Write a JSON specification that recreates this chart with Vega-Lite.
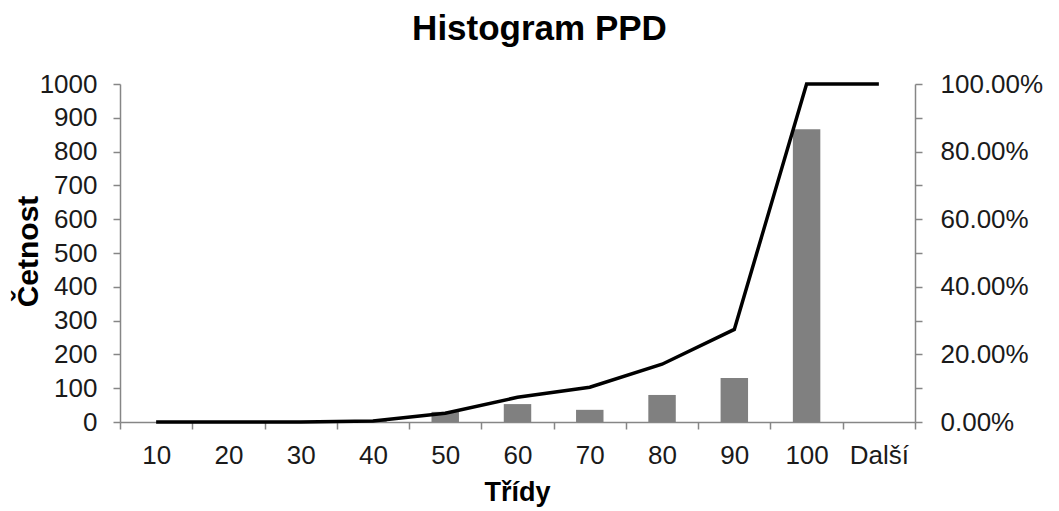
{
  "$schema": "https://vega.github.io/schema/vega-lite/v6.json",
  "autosize": {"type": "none"},
  "width": 795,
  "height": 338,
  "padding": {"left": 120, "top": 84, "right": 144, "bottom": 89},
  "background": "white",
  "config": {
    "view": {"stroke": null},
    "font": "Liberation Sans",
    "axis": {"grid": false, "domainColor": "#868686", "tickColor": "#868686", "labelColor": "#1a1a1a", "labelFont": "Liberation Sans", "labelFontSize": 26, "titleFont": "Liberation Sans", "titleFontSize": 27, "titleFontWeight": "bold", "titleColor": "#000000", "tickSize": 7, "domainWidth": 1.5, "tickWidth": 1.5}
  },
  "title": {"text": "Histogram PPD", "fontSize": 35, "fontWeight": "bold", "font": "Liberation Sans", "color": "#000000", "anchor": "middle", "dx": 22, "offset": 24},
  "data": {"values": [
    {"trida": "10", "cetnost": 0, "kumulativni": 0},
    {"trida": "20", "cetnost": 0, "kumulativni": 0},
    {"trida": "30", "cetnost": 0, "kumulativni": 0},
    {"trida": "40", "cetnost": 3, "kumulativni": 0.003},
    {"trida": "50", "cetnost": 30, "kumulativni": 0.026},
    {"trida": "60", "cetnost": 53, "kumulativni": 0.073},
    {"trida": "70", "cetnost": 36, "kumulativni": 0.103},
    {"trida": "80", "cetnost": 80, "kumulativni": 0.171},
    {"trida": "90", "cetnost": 130, "kumulativni": 0.274},
    {"trida": "100", "cetnost": 866, "kumulativni": 1.0},
    {"trida": "Další", "cetnost": 0, "kumulativni": 1.0}
  ]},
  "encoding": {
    "x": {"field": "trida", "type": "ordinal", "sort": null,
      "scale": {"paddingInner": 0, "paddingOuter": 0},
      "axis": {"title": "Třídy", "labelAngle": 0, "tickBand": "extent", "labelPadding": 13, "titleX": 397, "titleY": 70, "titleBaseline": "middle", "titleAlign": "center"}}
  },
  "layer": [
    {
      "mark": {"type": "bar", "color": "#808080", "width": {"band": 0.38}},
      "encoding": {
        "y": {"field": "cetnost", "type": "quantitative",
          "scale": {"domain": [0, 1000], "nice": false},
          "axis": {"title": "Četnost", "format": "d", "values": [0,100,200,300,400,500,600,700,800,900,1000], "labelPadding": 16, "titleFontSize": 30, "titleX": -92, "titleY": 167, "titleAngle": -90, "titleBaseline": "middle", "titleAlign": "center"}}
      }
    },
    {
      "mark": {"type": "line", "color": "#000000", "strokeWidth": 3.5},
      "encoding": {
        "y": {"field": "kumulativni", "type": "quantitative",
          "scale": {"domain": [0, 1], "nice": false},
          "axis": {"orient": "right", "title": null, "values": [0,0.1,0.2,0.3,0.4,0.5,0.6,0.7,0.8,0.9,1.0], "labelExpr": "round(datum.value*10) % 2 == 1 ? '' : format(datum.value, '.2%')", "labelPadding": 18}}
      }
    }
  ],
  "resolve": {"scale": {"y": "independent"}}
}
